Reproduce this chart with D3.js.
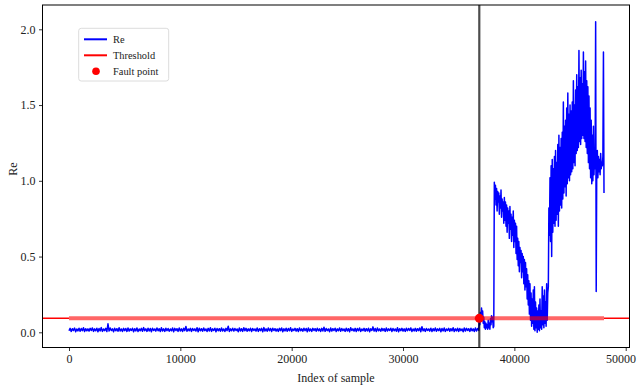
<!DOCTYPE html>
<html>
<head>
<meta charset="utf-8">
<script src="https://cdn.jsdelivr.net/npm/d3@7/dist/d3.min.js"></script>
<style>
  html, body { margin: 0; padding: 0; background: #fff; }
  svg { display: block; }
  svg text { font-family: "Liberation Serif", "Times New Roman", serif; }
</style>
</head>
<body>
<svg id="chart" width="637" height="388"></svg>
<script>
// Reconstruction error per sample (segments with their own sampling step)
const quietStart = 0, quietStep = 100;
const quietRe = [
  0.010,0.026,0.006,0.024,0.012,0.028,0.004,0.022,0.009,0.027,0.007,0.025,0.011,0.030,0.005,0.024,0.010,0.023,0.008,0.026,
  0.012,0.029,0.006,0.023,0.010,0.027,0.004,0.025,0.009,0.031,0.006,0.022,0.011,0.026,0.005,0.056,0.008,0.028,0.012,0.023,
  0.004,0.027,0.010,0.024,0.007,0.030,0.009,0.022,0.005,0.026,0.011,0.025,0.006,0.028,0.008,0.023,0.012,0.027,0.004,0.024,
  0.009,0.029,0.005,0.022,0.010,0.026,0.007,0.031,0.011,0.023,0.006,0.027,0.009,0.025,0.004,0.027,0.012,0.022,0.008,0.028,
  0.010,0.024,0.005,0.030,0.009,0.023,0.006,0.027,0.011,0.025,0.007,0.022,0.010,0.028,0.004,0.026,0.012,0.024,0.006,0.029,
  0.009,0.023,0.005,0.027,0.011,0.038,0.007,0.022,0.010,0.026,0.006,0.025,0.012,0.023,0.008,0.030,0.004,0.027,0.010,0.024,
  0.007,0.028,0.011,0.022,0.005,0.026,0.009,0.030,0.006,0.023,0.012,0.027,0.004,0.025,0.010,0.024,0.007,0.029,0.009,0.022,
  0.005,0.026,0.011,0.040,0.006,0.023,0.010,0.027,0.008,0.025,0.012,0.022,0.004,0.028,0.009,0.024,0.006,0.030,0.011,0.026,
  0.007,0.023,0.010,0.027,0.005,0.025,0.012,0.022,0.008,0.029,0.006,0.024,0.011,0.026,0.004,0.031,0.009,0.023,0.007,0.028,
  0.010,0.025,0.005,0.027,0.012,0.024,0.008,0.022,0.006,0.026,0.011,0.029,0.004,0.023,0.009,0.027,0.007,0.025,0.010,0.030,
  0.006,0.022,0.012,0.026,0.008,0.024,0.005,0.028,0.010,0.023,0.007,0.027,0.011,0.025,0.004,0.029,0.009,0.022,0.006,0.026,
  0.012,0.024,0.007,0.027,0.010,0.023,0.005,0.026,0.009,0.034,0.006,0.025,0.011,0.022,0.004,0.028,0.008,0.024,0.012,0.027,
  0.005,0.023,0.010,0.029,0.007,0.025,0.011,0.022,0.006,0.027,0.009,0.024,0.004,0.030,0.012,0.023,0.008,0.026,0.005,0.025,
  0.010,0.028,0.006,0.022,0.011,0.026,0.007,0.024,0.009,0.027,0.004,0.023,0.012,0.036,0.008,0.025,0.005,0.029,0.010,0.022,
  0.007,0.026,0.011,0.024,0.006,0.028,0.009,0.023,0.012,0.027,0.005,0.025,0.010,0.022,0.007,0.030,0.004,0.024,0.011,0.026,
  0.008,0.023,0.006,0.027,0.010,0.025,0.012,0.029,0.005,0.022,0.009,0.026,0.007,0.024,0.011,0.028,0.004,0.037,0.010,0.023,
  0.006,0.025,0.012,0.022,0.008,0.027,0.005,0.024,0.010,0.029,0.007,0.023,0.011,0.026,0.004,0.025,0.009,0.028,0.006,0.022,
  0.012,0.026,0.007,0.024,0.010,0.030,0.005,0.023,0.009,0.027,0.006,0.025,0.011,0.022,0.004,0.028,0.008,0.026,0.012,0.024,
  0.006,0.027,0.010,0.023,0.005,0.029,0.009,0.025,0.012
];

const faultStart = 36850, faultStep = 50;
const faultRe = [
  0.09,0.05,0.13,0.08,0.16,0.10,0.14,0.06,0.10,
  0.03,0.07,0.02,0.06,0.03,0.05,0.02,0.08,0.03,0.06,
  0.02,0.09,0.05,0.11,0.07,0.10,0.03,0.04
];

const surgeStart = 38200, surgeStep = 50;
const surgeRe = [
  0.99,0.88,0.97,0.84,0.95,0.80,0.93,0.86,0.92,0.78,0.90,0.82,0.94,0.76,0.88,0.80,0.86,0.72,0.89,0.74,
  0.86,0.70,0.84,0.66,0.82,0.72,0.80,0.62,0.83,0.68,0.78,0.60,0.76,0.64,0.80,0.56,0.74,0.60,0.72,0.52,
  0.70,0.48,0.62,0.44,0.60,0.40,0.56,0.46,0.54,0.36,0.52,0.40,0.50,0.32,0.48,0.28,0.46,0.30,0.42,0.22,
  0.38,0.18,0.34,0.12,0.32,0.08,0.26,0.04,0.22,0.06,0.28,0.02,0.30,0.01,0.20,0.03,0.16,0.00,0.14,0.02,
  0.18,0.01,0.22,0.03,0.14,0.02,0.30,0.05,0.24,0.03,0.28,0.06,0.20,0.04,0.32,0.08,0.26,0.30,0.82,0.64,
  1.02,0.60,1.10,0.50,1.14,0.66,1.08,0.72,1.16,0.70,1.20,0.74,1.12,0.78,1.24,0.70,1.30,0.80,1.22,0.84,
  1.28,0.82,1.32,0.88,1.52,0.92,1.36,0.96,1.40,0.90,1.48,0.98,1.58,1.02,1.44,1.00,1.50,1.04,1.46,1.06,
  1.52,1.08,1.66,1.12,1.50,1.10,1.60,1.18,1.70,1.20,1.62,1.22,1.86,1.26,1.68,1.24,1.73,1.28,1.64,1.30,
  1.85,1.28,1.72,1.26,1.79,1.22,1.66,1.18,1.62,1.12,1.56,1.08,1.48,1.02,1.40,0.98,1.30,1.00,1.36,1.04,
  1.20,1.08,2.05,0.27,1.12,1.20,1.02,1.16,1.06,1.14,1.04,1.18,1.08,1.12,1.10,1.16,1.85,0.92
];

const threshold = 0.092;
const faultIndex = 36850;

const xTicks = [0, 10000, 20000, 30000, 40000, 50000];
const yTicks = [0.0, 0.5, 1.0, 1.5, 2.0];
const legendLabels = ["Re", "Threshold", "Fault point"];

const FONT = "'Liberation Serif', 'Times New Roman', serif";
const W = 637;

// Assemble the (index, value) series
function segment(start, step, values) {
  return values.map((v, i) => ({ idx: start + i * step, v }));
}
const series = [
  ...segment(quietStart, quietStep, quietRe),
  ...segment(faultStart, faultStep, faultRe),
  ...segment(surgeStart, surgeStep, surgeRe)
];
const lastIdx = series[series.length - 1].idx;

const svg = d3.select("#chart");
const plot = { left: 42.5, right: 629.5, top: 5, bottom: 347.5 };

const x = d3.scaleLinear().domain([-2380, 50340]).range([plot.left, plot.right]);
const y = d3.scaleLinear().domain([-0.1003, 2.1604]).range([plot.bottom, plot.top]);

svg.append("defs").append("clipPath").attr("id", "clip")
  .append("rect")
  .attr("x", plot.left).attr("y", plot.top)
  .attr("width", plot.right - plot.left).attr("height", plot.bottom - plot.top);

const g = svg.append("g").attr("clip-path", "url(#clip)");

// Re curve
const line = d3.line().x(d => x(d.idx)).y(d => y(d.v));
g.append("path")
  .datum(series)
  .attr("fill", "none")
  .attr("stroke", "#0000ff")
  .attr("stroke-width", 1.5)
  .attr("stroke-linejoin", "round")
  .attr("d", line);

// Threshold: thin guide across the axes, thicker band over the sample range
const xd = x.domain();
g.append("line")
  .attr("x1", x(xd[0])).attr("x2", x(0))
  .attr("y1", y(threshold)).attr("y2", y(threshold))
  .attr("stroke", "#ff0000").attr("stroke-width", 1.5);
g.append("line")
  .attr("x1", x(lastIdx)).attr("x2", x(xd[1]))
  .attr("y1", y(threshold)).attr("y2", y(threshold))
  .attr("stroke", "#ff0000").attr("stroke-width", 1.5);
g.append("line")
  .attr("x1", x(0)).attr("x2", x(lastIdx))
  .attr("y1", y(threshold)).attr("y2", y(threshold))
  .attr("stroke", "#ff0000").attr("stroke-opacity", 0.6).attr("stroke-width", 4);

// Fault marker: vertical line and point
g.append("line")
  .attr("x1", x(faultIndex)).attr("x2", x(faultIndex))
  .attr("y1", plot.top).attr("y2", plot.bottom)
  .attr("stroke", "#000").attr("stroke-opacity", 0.7).attr("stroke-width", 2.2);
g.append("circle")
  .attr("cx", x(faultIndex)).attr("cy", y(threshold)).attr("r", 4.5)
  .attr("fill", "#ff0000");

// Axes
const xAxis = d3.axisBottom(x).tickValues(xTicks).tickFormat(d3.format("d"))
  .tickSizeInner(3.5).tickSizeOuter(0).tickPadding(3.5);
const yAxis = d3.axisLeft(y).tickValues(yTicks).tickFormat(d3.format(".1f"))
  .tickSizeInner(3.5).tickSizeOuter(0).tickPadding(3.5);

const gx = svg.append("g").attr("transform", `translate(0,${plot.bottom})`).call(xAxis);
const gy = svg.append("g").attr("transform", `translate(${plot.left},0)`).call(yAxis);
[gx, gy].forEach(a => {
  a.attr("font-family", FONT).attr("font-size", 12);
  a.select(".domain").remove();
  a.selectAll("text").attr("fill", "#222").style("font-family", FONT);
  a.selectAll("line").attr("stroke", "#000").attr("stroke-width", 0.8);
});

// Keep the rightmost tick label inside the canvas
gx.selectAll(".tick text").each(function () {
  const tick = this.parentNode;
  const tx = +tick.getAttribute("transform").match(/translate\(([-\d.]+)/)[1];
  const b = this.getBBox();
  const over = tx + b.x + b.width - (W - 1);
  if (over > 0) d3.select(this).attr("dx", -over);
});

// Frame
svg.append("rect")
  .attr("x", plot.left).attr("y", plot.top)
  .attr("width", plot.right - plot.left).attr("height", plot.bottom - plot.top)
  .attr("fill", "none").attr("stroke", "#000").attr("stroke-width", 1);

// Axis titles
svg.append("text")
  .attr("x", (plot.left + plot.right) / 2).attr("y", 382)
  .attr("text-anchor", "middle").attr("font-size", 12).attr("fill", "#222")
  .style("font-family", FONT)
  .text("Index of sample");
svg.append("text")
  .attr("transform", `translate(17,169) rotate(-90)`)
  .attr("text-anchor", "middle").attr("font-size", 12).attr("fill", "#222")
  .style("font-family", FONT)
  .text("Re");

// Legend
const lg = svg.append("g");
lg.append("rect")
  .attr("x", 78.7).attr("y", 28.3).attr("width", 90).attr("height", 52.7)
  .attr("rx", 2.5).attr("fill", "#fff").attr("fill-opacity", 0.8)
  .attr("stroke", "#dcdcdc").attr("stroke-width", 1);
const rowY = [39.3, 55.3, 71.3];
lg.append("line").attr("x1", 84).attr("x2", 107).attr("y1", rowY[0]).attr("y2", rowY[0])
  .attr("stroke", "#0000ff").attr("stroke-width", 2);
lg.append("line").attr("x1", 84).attr("x2", 107).attr("y1", rowY[1]).attr("y2", rowY[1])
  .attr("stroke", "#ff0000").attr("stroke-width", 2);
lg.append("circle").attr("cx", 96).attr("cy", rowY[2]).attr("r", 3.8).attr("fill", "#ff0000");
lg.selectAll("text.lab").data(legendLabels).join("text")
  .attr("class", "lab")
  .attr("x", 113).attr("y", (d, i) => rowY[i] + 3.5)
  .attr("font-size", 10.4).attr("fill", "#222")
  .style("font-family", FONT)
  .text(d => d);
</script>
</body>
</html>
